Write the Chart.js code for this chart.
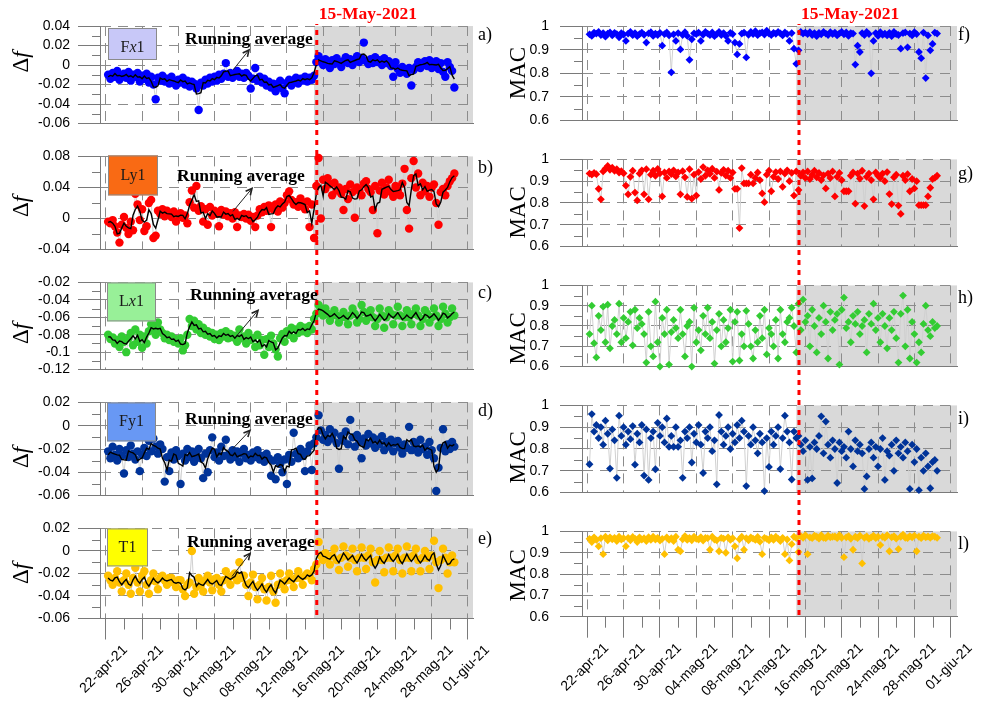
<!DOCTYPE html>
<html>
<head>
<meta charset="utf-8">
<script src="https://cdn.jsdelivr.net/npm/chart.js"></script>
<style>
  body { margin: 0; background: #fff; width: 985px; height: 703px; position: relative; overflow: hidden; }
  canvas { position: absolute; }
</style>
</head>
<body>
<script>
// x axis: days after 22-apr-21
const tickDays = [0, 4, 8, 12, 16, 20, 24, 28, 32, 36, 40];
const tickLabels = ['22-apr-21', '26-apr-21', '30-apr-21', '04-mag-21', '08-mag-21', '12-mag-21',
                    '16-mag-21', '20-mag-21', '24-mag-21', '28-mag-21', '01-giu-21'];
const minorDays = [2, 6, 10, 14, 18, 22, 26, 30, 34, 38];
const eventDay = 23.3;   // 15-May-2021
const shadeFrom = 23.0;
const firstDay = 0.25, stepDay = 0.25;   // one sample every 6 hours

// y tick values
const dfTicksA = [-0.06, -0.04, -0.02, 0, 0.02, 0.04];
const dfTicksB = [-0.04, 0, 0.04, 0.08];
const dfTicksC = [-0.12, -0.1, -0.08, -0.06, -0.04, -0.02];
const dfTicksD = [-0.06, -0.04, -0.02, 0, 0.02];
const dfTicksE = [-0.06, -0.04, -0.02, 0, 0.02];
const macTicks = [0.6, 0.7, 0.8, 0.9, 1];

// frequency shift, Δf
const fx1 = [
  -0.010,-0.014,-0.008,-0.012, -0.006,-0.015,-0.011,-0.009,
  -0.013,-0.007,-0.016,-0.010, -0.012,-0.008,-0.017,-0.011,
  -0.014,-0.009,-0.018,-0.012, -0.020,-0.035,-0.013,-0.016,
  -0.011,-0.017,-0.014,-0.019, -0.012,-0.016,-0.021,-0.015,
  -0.018,-0.013,-0.020,-0.016, -0.022,-0.017,-0.019,-0.024,
  -0.046,-0.018,-0.021,-0.015, -0.019,-0.013,-0.017,-0.012,
  -0.016,-0.010,-0.014,-0.009, 0.002,-0.012,-0.008,-0.013,
  -0.010,-0.006,-0.012,-0.009, -0.013,-0.008,-0.011,-0.024,
  -0.014,-0.003,-0.016,-0.012, -0.018,-0.014,-0.021,-0.017,
  -0.023,-0.019,-0.027,-0.020, -0.016,-0.024,-0.029,-0.018,
  -0.015,-0.021,-0.017,-0.013, -0.019,-0.014,-0.016,-0.012,
  -0.017,-0.013,-0.015,-0.011, 0.003,0.009,0.004,0.000,
  0.006,0.002,-0.003,0.005, 0.001,0.007,0.003,-0.002,
  0.004,0.008,0.002,0.006, 0.000,0.005,0.009,0.003,
  0.007,0.023,0.004,0.001, 0.006,0.002,0.008,0.003,
  0.005,0.000,0.007,0.002, 0.004,-0.001,-0.012,0.003,
  -0.004,-0.008,-0.002,-0.006, -0.009,-0.003,-0.021,-0.005,
  -0.002,0.003,-0.003,0.001, 0.004,-0.001,0.005,-0.003,
  0.000,0.004,-0.004,0.002, -0.007,-0.012,0.003,-0.002,
  -0.006,-0.023
];
const ly1 = [
  -0.004,-0.006,-0.002,-0.010, -0.018,-0.031,-0.008,0.002,
  -0.012,-0.020,-0.004,-0.015, 0.032,0.018,-0.002,0.012,
  -0.016,-0.010,0.020,0.024, -0.025,-0.022,0.010,0.006,
  0.012,0.003,0.010,0.006, 0.002,0.009,-0.004,0.005,
  0.007,0.001,0.004,-0.006, 0.021,0.036,0.014,0.042,
  0.010,0.016,-0.004,0.012, -0.008,0.015,0.004,0.010,
  0.006,-0.010,0.011,0.005, 0.009,0.003,0.007,0.000,
  0.008,-0.011,0.004,0.002, 0.006,0.000,0.005,-0.003,
  0.002,-0.011,0.004,0.012, 0.008,0.015,0.010,0.017,
  -0.011,0.012,0.018,0.009, 0.022,0.014,0.020,0.030,
  0.035,0.024,0.018,0.021, 0.015,0.026,0.020,0.012,
  0.022,-0.011,0.018,-0.025, 0.042,0.078,0.000,0.050,
  0.038,0.052,0.044,0.030, 0.046,0.036,0.040,0.032,
  0.011,0.038,0.025,0.044, 0.034,0.001,0.040,0.036,
  0.030,0.045,0.048,0.038, 0.034,0.011,0.042,-0.019,
  0.036,0.046,0.031,0.040, 0.050,0.034,0.028,0.042,
  0.036,0.030,0.045,0.064, 0.011,-0.013,0.052,0.074,
  0.040,0.058,0.030,0.046, 0.035,0.042,0.028,0.040,
  0.044,0.020,-0.008,0.034, 0.038,0.030,0.042,0.048,
  0.052,0.058
];
const lx1 = [
  -0.080,-0.085,-0.083,-0.090, -0.086,-0.094,-0.082,-0.088,
  -0.100,-0.084,-0.078,-0.092, -0.074,-0.088,-0.080,-0.095,
  -0.082,-0.090,-0.076,-0.068, -0.072,-0.080,-0.066,-0.074,
  -0.078,-0.084,-0.080,-0.086, -0.082,-0.088,-0.085,-0.090,
  -0.084,-0.098,-0.092,-0.080, -0.062,-0.070,-0.064,-0.074,
  -0.068,-0.078,-0.072,-0.080, -0.076,-0.082,-0.078,-0.085,
  -0.080,-0.086,-0.078,-0.082, -0.076,-0.084,-0.079,-0.083,
  -0.081,-0.088,-0.074,-0.084, -0.082,-0.090,-0.078,-0.086,
  -0.084,-0.094,-0.080,-0.092, -0.086,-0.103,-0.085,-0.094,
  -0.081,-0.090,-0.097,-0.105, -0.084,-0.079,-0.088,-0.076,
  -0.080,-0.072,-0.084,-0.074, -0.078,-0.070,-0.076,-0.072,
  -0.078,-0.070,-0.074,-0.062, -0.056,-0.046,-0.050,-0.058,
  -0.050,-0.056,-0.064,-0.058, -0.052,-0.058,-0.066,-0.060,
  -0.054,-0.060,-0.068,-0.058, -0.050,-0.056,-0.066,-0.062,
  -0.046,-0.054,-0.064,-0.058, -0.052,-0.060,-0.070,-0.062,
  -0.050,-0.058,-0.072,-0.060, -0.052,-0.056,-0.068,-0.058,
  -0.048,-0.058,-0.070,-0.060, -0.052,-0.060,-0.068,-0.056,
  -0.050,-0.058,-0.070,-0.062, -0.052,-0.056,-0.066,-0.060,
  -0.050,-0.058,-0.070,-0.062, -0.048,-0.056,-0.066,-0.060,
  -0.050,-0.058
];
const fy1 = [
  -0.022,-0.028,-0.018,-0.025, -0.030,-0.020,-0.026,-0.041,
  -0.021,-0.027,-0.017,-0.024, -0.029,-0.022,-0.039,-0.025,
  -0.019,-0.026,-0.013,-0.022, -0.011,-0.018,-0.024,-0.016,
  -0.020,-0.048,-0.027,-0.039, -0.023,-0.029,-0.021,-0.026,
  -0.050,-0.024,-0.030,-0.020, -0.027,-0.022,-0.031,-0.025,
  -0.020,-0.028,-0.045,-0.024, -0.040,-0.021,-0.010,-0.027,
  -0.023,-0.030,-0.018,-0.026, -0.012,-0.025,-0.029,-0.021,
  -0.027,-0.022,-0.031,-0.024, -0.020,-0.028,-0.025,-0.030,
  -0.023,-0.027,-0.021,-0.029, -0.026,-0.031,-0.024,-0.028,
  -0.043,-0.030,-0.046,-0.027, -0.033,-0.040,-0.029,-0.050,
  -0.025,-0.031,-0.006,-0.024, -0.028,-0.020,-0.026,-0.039,
  -0.022,-0.017,-0.038,-0.015, -0.010,0.009,-0.004,-0.012,
  -0.008,-0.014,-0.003,-0.011, -0.006,-0.015,-0.037,-0.009,
  -0.013,-0.005,-0.016,0.005, -0.010,-0.018,-0.008,-0.014,
  -0.028,-0.011,-0.017,-0.007, -0.015,-0.010,-0.019,-0.012,
  -0.016,-0.009,-0.021,-0.014, -0.018,-0.012,-0.022,-0.015,
  -0.013,-0.019,-0.024,-0.016, -0.019,-0.001,-0.021,-0.014,
  -0.017,-0.023,-0.012,-0.020, -0.018,-0.025,-0.014,-0.021,
  -0.028,-0.056,-0.036,-0.019, -0.003,-0.022,-0.016,-0.020,
  -0.014,-0.018
];
const t1 = [
  -0.022,-0.026,-0.030,-0.024, -0.018,-0.028,-0.036,-0.026,
  -0.020,-0.030,-0.038,-0.024, -0.015,-0.028,-0.036,-0.022,
  -0.018,-0.030,-0.038,-0.026, -0.020,-0.027,-0.034,-0.024,
  -0.022,-0.026,-0.030,-0.024, -0.024,-0.028,-0.032,-0.026,
  -0.026,-0.034,-0.040,-0.030, -0.028,0.000,-0.038,-0.032,
  -0.024,-0.030,-0.036,-0.026, -0.022,-0.028,-0.035,-0.025,
  -0.024,-0.030,-0.036,-0.026, -0.018,-0.024,-0.030,-0.022,
  -0.020,-0.026,-0.010,-0.024, -0.022,-0.030,-0.040,-0.028,
  -0.021,-0.032,-0.043,-0.030, -0.024,-0.034,-0.044,-0.032,
  -0.022,-0.036,-0.046,-0.030, -0.020,-0.028,-0.034,-0.026,
  -0.020,-0.026,-0.032,-0.024, -0.018,-0.024,-0.030,-0.022,
  -0.020,-0.022,-0.026,-0.016, -0.012,0.008,-0.004,-0.008,
  -0.002,-0.006,-0.012,-0.004, 0.002,-0.008,-0.017,-0.006,
  0.004,-0.004,-0.014,-0.006, 0.002,-0.008,-0.018,-0.006,
  0.003,-0.006,-0.016,-0.004, 0.002,-0.010,-0.028,-0.008,
  0.000,-0.008,-0.019,-0.006, 0.003,-0.006,-0.018,-0.004,
  0.002,-0.008,-0.020,-0.006, 0.004,-0.006,-0.018,-0.004,
  0.002,-0.008,-0.018,-0.006, 0.000,-0.006,-0.016,-0.004,
  0.009,-0.010,-0.033,-0.008, 0.002,-0.006,-0.020,-0.010,
  -0.004,-0.010
];

// modal assurance criterion, MAC
const macFx1 = [
  0.965,0.958,0.972,0.968, 0.975,0.962,0.970,0.955,
  0.968,0.973,0.960,0.971, 0.966,0.952,0.970,0.964,
  0.937,0.968,0.975,0.961, 0.970,0.957,0.966,0.972,
  0.963,0.930,0.969,0.974, 0.958,0.968,0.962,0.971,
  0.917,0.966,0.973,0.960, 0.804,0.965,0.937,0.970,
  0.901,0.962,0.974,0.958, 0.857,0.944,0.969,0.966,
  0.972,0.937,0.963,0.975, 0.968,0.961,0.973,0.957,
  0.966,0.975,0.962,0.970, 0.958,0.937,0.971,0.966,
  0.930,0.880,0.924,0.968, 0.972,0.867,0.963,0.975,
  0.966,0.978,0.961,0.970, 0.973,0.964,0.980,0.968,
  0.962,0.971,0.967,0.975, 0.969,0.960,0.973,0.966,
  0.937,0.970,0.904,0.840, 0.897,0.975,0.968,0.972,
  0.966,0.974,0.962,0.970, 0.957,0.971,0.965,0.975,
  0.968,0.962,0.974,0.966, 0.972,0.960,0.969,0.975,
  0.965,0.973,0.958,0.970, 0.968,0.837,0.917,0.890,
  0.970,0.962,0.975,0.966, 0.800,0.937,0.970,0.958,
  0.974,0.963,0.968,0.960, 0.971,0.957,0.975,0.966,
  0.962,0.904,0.970,0.973, 0.910,0.968,0.960,0.974,
  0.966,0.890,0.864,0.972, 0.780,0.960,0.897,0.924,
  0.972,0.968
];
const macLy1 = [
  0.935,0.930,0.938,0.932, 0.865,0.817,0.945,0.958,
  0.970,0.952,0.962,0.948, 0.955,0.940,0.946,0.936,
  0.880,0.840,0.920,0.948, 0.848,0.812,0.935,0.950,
  0.840,0.955,0.817,0.930, 0.948,0.925,0.956,0.936,
  0.830,0.940,0.915,0.945, 0.933,0.950,0.922,0.940,
  0.840,0.946,0.918,0.828, 0.955,0.820,0.930,0.834,
  0.942,0.910,0.965,0.925, 0.950,0.934,0.957,0.915,
  0.944,0.860,0.938,0.952, 0.926,0.948,0.915,0.940,
  0.865,0.865,0.685,0.960, 0.890,0.890,0.890,0.930,
  0.890,0.915,0.940,0.905, 0.844,0.804,0.930,0.948,
  0.854,0.920,0.942,0.910, 0.945,0.874,0.935,0.950,
  0.900,0.938,0.834,0.945, 0.860,0.925,0.940,0.915,
  0.945,0.910,0.930,0.948, 0.918,0.938,0.905,0.927,
  0.867,0.935,0.915,0.945, 0.830,0.920,0.938,0.905,
  0.854,0.854,0.854,0.925, 0.940,0.797,0.935,0.912,
  0.948,0.786,0.920,0.935, 0.905,0.817,0.940,0.925,
  0.915,0.935,0.900,0.942, 0.841,0.795,0.918,0.930,
  0.788,0.750,0.925,0.905, 0.932,0.854,0.910,0.867,
  0.900,0.790,0.790,0.790, 0.790,0.830,0.870,0.910,
  0.915,0.925
];
const macLx1 = [
  0.760,0.900,0.715,0.645, 0.850,0.780,0.895,0.720,
  0.905,0.690,0.800,0.830, 0.760,0.910,0.720,0.840,
  0.740,0.820,0.870,0.705, 0.880,0.790,0.840,0.810,
  0.760,0.620,0.870,0.700, 0.650,0.920,0.720,0.600,
  0.840,0.760,0.880,0.610, 0.770,0.830,0.790,0.740,
  0.880,0.760,0.650,0.800, 0.820,0.600,0.890,0.720,
  0.780,0.680,0.850,0.760, 0.890,0.740,0.820,0.615,
  0.780,0.860,0.700,0.830, 0.720,0.790,0.880,0.625,
  0.820,0.870,0.630,0.760, 0.700,0.875,0.810,0.700,
  0.640,0.780,0.720,0.850, 0.740,0.880,0.660,0.790,
  0.760,0.700,0.830,0.640, 0.880,0.760,0.720,0.820,
  0.840,0.890,0.800,0.670, 0.910,0.780,0.930,0.820,
  0.850,0.700,0.880,0.800, 0.670,0.840,0.760,0.900,
  0.820,0.640,0.870,0.780, 0.830,0.860,0.610,0.880,
  0.940,0.790,0.820,0.720, 0.850,0.810,0.870,0.760,
  0.800,0.830,0.670,0.860, 0.810,0.910,0.780,0.840,
  0.720,0.860,0.800,0.690, 0.840,0.780,0.870,0.740,
  0.620,0.860,0.950,0.700, 0.880,0.640,0.820,0.760,
  0.620,0.720,0.670,0.810, 0.900,0.780,0.750,0.820,
  0.790,0.800
];
const macFy1 = [
  0.730,0.960,0.880,0.910, 0.850,0.900,0.820,0.930,
  0.870,0.710,0.890,0.840, 0.668,0.953,0.860,0.900,
  0.820,0.880,0.845,0.905, 0.728,0.870,0.830,0.910,
  0.678,0.890,0.658,0.850, 0.880,0.707,0.920,0.860,
  0.900,0.830,0.940,0.810, 0.860,0.810,0.900,0.810,
  0.840,0.668,0.880,0.850, 0.900,0.738,0.870,0.830,
  0.910,0.820,0.690,0.880, 0.850,0.900,0.790,0.840,
  0.638,0.956,0.880,0.820, 0.860,0.900,0.800,0.870,
  0.830,0.910,0.850,0.930, 0.880,0.630,0.860,0.820,
  0.900,0.840,0.780,0.870, 0.830,0.607,0.850,0.718,
  0.880,0.820,0.860,0.900, 0.708,0.850,0.953,0.880,
  0.830,0.660,0.880,0.850, 0.860,0.820,0.790,0.840,
  0.658,0.810,0.665,0.830, 0.800,0.860,0.950,0.780,
  0.926,0.820,0.760,0.840, 0.800,0.644,0.830,0.790,
  0.810,0.760,0.880,0.800, 0.720,0.840,0.790,0.820,
  0.780,0.617,0.674,0.800, 0.830,0.760,0.810,0.720,
  0.800,0.850,0.658,0.790, 0.770,0.820,0.700,0.840,
  0.780,0.810,0.760,0.830, 0.790,0.617,0.820,0.740,
  0.800,0.611,0.760,0.700, 0.780,0.720,0.620,0.740,
  0.750,0.700
];
const macT1 = [
  0.965,0.950,0.972,0.960, 0.930,0.968,0.893,0.975,
  0.958,0.972,0.963,0.970, 0.955,0.975,0.962,0.968,
  0.930,0.970,0.958,0.974, 0.966,0.950,0.972,0.961,
  0.968,0.955,0.973,0.960, 0.975,0.962,0.970,0.957,
  0.965,0.893,0.972,0.960, 0.968,0.955,0.975,0.914,
  0.907,0.963,0.978,0.960, 0.970,0.958,0.975,0.965,
  0.962,0.973,0.957,0.970, 0.968,0.914,0.975,0.962,
  0.958,0.907,0.970,0.966, 0.900,0.972,0.960,0.968,
  0.930,0.874,0.963,0.975, 0.914,0.968,0.958,0.972,
  0.966,0.960,0.974,0.952, 0.893,0.970,0.965,0.958,
  0.972,0.960,0.975,0.966, 0.955,0.970,0.893,0.962,
  0.864,0.940,0.975,0.968, 0.903,0.978,0.970,0.982,
  0.893,0.972,0.968,0.980, 0.975,0.966,0.982,0.970,
  0.968,0.980,0.972,0.975, 0.976,0.968,0.982,0.970,
  0.879,0.972,0.978,0.965, 0.914,0.975,0.968,0.980,
  0.850,0.970,0.976,0.965, 0.972,0.980,0.968,0.975,
  0.936,0.975,0.970,0.982, 0.907,0.972,0.978,0.966,
  0.917,0.975,0.985,0.970, 0.968,0.978,0.972,0.980,
  0.907,0.975,0.968,0.980, 0.972,0.976,0.970,0.978,
  0.975,0.970
];

const sampleDays = fx1.map((_, i) => firstDay + i * stepDay);

const SERIF = "'Liberation Serif', 'Times New Roman', serif";
const SANS = "'Liberation Sans', Arial, sans-serif";
Chart.defaults.font.family = SANS;

// canvas strips, one per row (absolute page y)
const rows = [[0, 140], [140, 266], [266, 386], [386, 512], [512, 703]];

const leftCol = {
  x: 0, w: 500, yw: 100, areaRight: 473, xmin: -0.65, xmax: 40.56, tickPad: 8,
  title: [{t: 'Δ'}, {t: 'f', it: true}], titleDX: -72, letterDX: 5,
  pointStyle: 'circle', radius: 4.2
};
const rightCol = {
  x: 490, w: 495, yw: 92, areaRight: 957, xmin: -0.58, xmax: 40.69, tickPad: 11,
  title: [{t: 'MAC'}], titleDX: -57, letterDX: 1,
  pointStyle: 'rectRot', radius: 3.9
};

const leftPanels = [
  {vals: fx1, ticks: dfTicksA, color: '#0000ff', top: 26, bottom: 126.7, letter: 'a)', letterDY: 14, titleDY: 36,
   box: {parts: [{t: 'F'}, {t: 'x', it: true}, {t: '1'}], fill: '#c8c8f8', dx: 8, dy: 2, w: 49, h: 32, ty: 4},
   ra: {tx: 85, ty: 18, x0: 133, y0: 44, x1: 149, y1: 24}},
  {vals: ly1, ticks: dfTicksB, color: '#ff0000', top: 153.3, bottom: 252.3, letter: 'b)', letterDY: 17, titleDY: 50,
   box: {parts: [{t: 'Ly1'}], fill: '#f96a14', dx: 8, dy: -1, w: 50, h: 40, ty: 0},
   ra: {tx: 77, ty: 25, x0: 133, y0: 55, x1: 152, y1: 32}},
  {vals: lx1, ticks: dfTicksC, color: '#33cc33', top: 279, bottom: 378.3, letter: 'c)', letterDY: 16, titleDY: 51,
   box: {parts: [{t: 'L'}, {t: 'x', it: true}, {t: '1'}], fill: '#98f098', dx: 7, dy: 0, w: 49, h: 39, ty: 0},
   ra: {tx: 90, ty: 18, x0: 137, y0: 53, x1: 158, y1: 28}},
  {vals: fy1, ticks: dfTicksD, color: '#003399', top: 396.7, bottom: 496, letter: 'd)', letterDY: 14, titleDY: 55,
   box: {parts: [{t: 'Fy1'}], fill: '#6898f4', dx: 7, dy: 0, w: 49, h: 39, ty: 0},
   ra: {tx: 85, ty: 22, x0: 133, y0: 46, x1: 150, y1: 28}},
  {vals: t1, ticks: dfTicksE, color: '#ffc000', top: 525, bottom: 618.5, letter: 'e)', letterDY: 16, titleDY: 45,
   box: {parts: [{t: 'T1'}], fill: '#ffff00', dx: 7, dy: 0, w: 41, h: 38, ty: 0},
   ra: {tx: 87, ty: 19, x0: 132, y0: 48, x1: 150, y1: 25}}
];
const rightPanels = [
  {vals: macFx1, ticks: macTicks, color: '#0000ff', top: 26, bottom: 126, letter: 'f)', letterDY: 14, titleDY: 47},
  {vals: macLy1, ticks: macTicks, color: '#ff0000', top: 150, bottom: 250.7, letter: 'g)', letterDY: 20, titleDY: 53},
  {vals: macLx1, ticks: macTicks, color: '#33cc33', top: 277.7, bottom: 376, letter: 'h)', letterDY: 18, titleDY: 53},
  {vals: macFy1, ticks: macTicks, color: '#003399', top: 395, bottom: 494.3, letter: 'i)', letterDY: 19, titleDY: 52},
  {vals: macT1, ticks: macTicks, color: '#ffc000', top: 523.3, bottom: 616.7, letter: 'l)', letterDY: 18, titleDY: 44}
];

function runningAverage(vals, half) {
  return vals.map((_, i) => {
    let s = 0, n = 0;
    for (let j = i - half; j <= i + half; j++) {
      if (j >= 0 && j < vals.length) { s += vals[j]; n++; }
    }
    return s / n;
  });
}

function fmtTick(v) {
  return String(parseFloat(Number(v).toFixed(2)));
}

// text made of upright / italic pieces
function drawParts(ctx, parts, size, x, y, align) {
  const fonts = parts.map(p => (p.it ? 'italic ' : '') + size + 'px ' + SERIF);
  let total = 0;
  const ws = parts.map((p, i) => { ctx.font = fonts[i]; const w = ctx.measureText(p.t).width; total += w; return w; });
  let cx = align === 'center' ? x - total / 2 : x;
  ctx.textAlign = 'left';
  parts.forEach((p, i) => { ctx.font = fonts[i]; ctx.fillText(p.t, cx, y); cx += ws[i]; });
}

function decorPlugin(p, col, ct, isFirst, isLast) {
  return {
    id: 'decor',
    beforeDraw(chart) {
      const {ctx, chartArea: a, scales: {x}} = chart;
      const gx = x.getPixelForValue(shadeFrom);
      ctx.save();
      ctx.fillStyle = '#d9d9d9';
      ctx.fillRect(gx, a.top, a.right - gx, a.bottom - a.top);
      ctx.restore();
    },
    afterDraw(chart) {
      const {ctx, chartArea: a, scales: {x, y}} = chart;
      ctx.save();
      ctx.strokeStyle = '#7a7a7a';
      ctx.lineWidth = 1;
      // minor y ticks
      for (let i = 0; i < p.ticks.length - 1; i++) {
        const py = Math.round(y.getPixelForValue((p.ticks[i] + p.ticks[i + 1]) / 2)) + 0.5;
        ctx.beginPath(); ctx.moveTo(a.left - 8, py); ctx.lineTo(a.left, py); ctx.stroke();
      }
      if (isLast) {
        minorDays.forEach(d => {
          const px = Math.round(x.getPixelForValue(d)) + 0.5;
          ctx.beginPath(); ctx.moveTo(px, a.bottom); ctx.lineTo(px, a.bottom + 11); ctx.stroke();
        });
        ctx.fillStyle = '#000';
        ctx.font = '14px ' + SANS;
        ctx.textAlign = 'right';
        ctx.textBaseline = 'alphabetic';
        tickDays.forEach((d, i) => {
          ctx.save();
          ctx.translate(x.getPixelForValue(d) + 22, a.bottom + 32);
          ctx.rotate(-Math.PI / 4);
          ctx.fillText(tickLabels[i], 0, 0);
          ctx.restore();
        });
      }

      // 15-May-2021 line
      const rx = x.getPixelForValue(eventDay);
      const y0 = isFirst ? a.top - 2 : 0;
      const y1 = isLast ? a.bottom : chart.height;
      ctx.save();
      ctx.strokeStyle = '#ff0000';
      ctx.lineWidth = 3;
      ctx.setLineDash([5, 5]);
      ctx.lineDashOffset = ct + y0;
      ctx.beginPath(); ctx.moveTo(rx, y0); ctx.lineTo(rx, y1); ctx.stroke();
      ctx.restore();
      if (isFirst) {
        ctx.fillStyle = '#ff0000';
        ctx.font = 'bold 17.5px ' + SERIF;
        ctx.textAlign = 'left';
        ctx.fillText('15-May-2021', rx + 2, 19 - ct);
      }

      // label box
      if (p.box) {
        const b = p.box;
        const bx = a.left + b.dx, by = a.top + b.dy;
        ctx.fillStyle = b.fill;
        ctx.fillRect(bx, by, b.w, b.h);
        ctx.strokeStyle = '#8a8a8a';
        ctx.strokeRect(bx + 0.5, by + 0.5, b.w - 1, b.h - 1);
        ctx.fillStyle = '#1a1a1a';
        ctx.textBaseline = 'middle';
        drawParts(ctx, b.parts, 16, bx + b.w / 2, by + b.h / 2 + b.ty, 'center');
        ctx.textBaseline = 'alphabetic';
      }

      // panel letter
      ctx.fillStyle = '#000';
      ctx.font = '18px ' + SERIF;
      ctx.textAlign = 'left';
      ctx.fillText(p.letter, a.right + col.letterDX, a.top + p.letterDY);

      // axis title
      ctx.save();
      ctx.translate(a.left + col.titleDX, a.top + p.titleDY);
      ctx.rotate(-Math.PI / 2);
      drawParts(ctx, col.title, 23, 0, 0, 'center');
      ctx.restore();

      // running average note
      if (p.ra) {
        const r = p.ra;
        ctx.font = 'bold 17.5px ' + SERIF;
        ctx.fillText('Running average', a.left + r.tx, a.top + r.ty);
        const x0 = a.left + r.x0, yy0 = a.top + r.y0, x1 = a.left + r.x1, yy1 = a.top + r.y1;
        const ang = Math.atan2(yy1 - yy0, x1 - x0);
        ctx.strokeStyle = '#222';
        ctx.lineWidth = 1;
        ctx.beginPath(); ctx.moveTo(x0, yy0); ctx.lineTo(x1, yy1); ctx.stroke();
        ctx.lineWidth = 1.6;
        ctx.beginPath();
        ctx.moveTo(x1 - 7 * Math.cos(ang - 0.45), yy1 - 7 * Math.sin(ang - 0.45));
        ctx.lineTo(x1, yy1);
        ctx.lineTo(x1 - 7 * Math.cos(ang + 0.45), yy1 - 7 * Math.sin(ang + 0.45));
        ctx.stroke();
      }
      ctx.restore();
    }
  };
}

function makePanel(p, col, rowIdx) {
  const [ct, cb] = rows[rowIdx];
  const H = cb - ct;
  const isLeft = col === leftCol;
  const isFirst = rowIdx === 0;
  const isLast = rowIdx === rows.length - 1;

  const cv = document.createElement('canvas');
  cv.width = col.w;
  cv.height = H;
  cv.style.left = col.x + 'px';
  cv.style.top = ct + 'px';
  cv.style.width = col.w + 'px';
  cv.style.height = H + 'px';
  document.body.appendChild(cv);

  const datasets = [];
  if (isLeft) {
    const avg = runningAverage(p.vals, 1);
    datasets.push({
      label: 'Running average',
      data: avg.map((v, i) => ({x: sampleDays[i], y: v})),
      showLine: true, borderColor: '#000', borderWidth: 1.4,
      pointRadius: 0, order: 0
    });
  }
  datasets.push({
    label: 'samples',
    data: p.vals.map((v, i) => ({x: sampleDays[i], y: v})),
    showLine: true, borderColor: '#d0d0d0', borderWidth: 1,
    pointStyle: col.pointStyle, pointRadius: col.radius,
    pointBackgroundColor: p.color, pointBorderWidth: 0,
    order: 1, clip: false
  });

  new Chart(cv, {
    type: 'scatter',
    data: {datasets},
    options: {
      responsive: false,
      animation: false,
      devicePixelRatio: 1,
      events: [],
      layout: {
        autoPadding: false,
        padding: {top: p.top - ct, right: col.x + col.w - col.areaRight, bottom: 0, left: 0}
      },
      plugins: {legend: {display: false}, tooltip: {enabled: false}},
      scales: {
        x: {
          type: 'linear', min: col.xmin, max: col.xmax,
          afterBuildTicks: s => { s.ticks = tickDays.map(v => ({value: v})); },
          afterFit: s => { s.height = cb - p.bottom; },
          ticks: {display: false},
          grid: {color: '#8c8c8c', drawTicks: isLast, tickLength: 21, tickColor: '#7a7a7a', tickBorderDash: []},
          border: {display: true, color: '#7a7a7a', dash: [10, 7]}
        },
        y: {
          type: 'linear', min: p.ticks[0], max: p.ticks[p.ticks.length - 1],
          afterBuildTicks: s => { s.ticks = p.ticks.map(v => ({value: v})); },
          afterFit: s => { s.width = col.yw; },
          ticks: {callback: fmtTick, color: '#000', font: {size: 14}, padding: col.tickPad},
          grid: {color: '#8c8c8c', tickLength: 22, tickColor: '#7a7a7a', tickBorderDash: []},
          border: {display: true, color: '#7a7a7a', dash: [10, 7]}
        }
      }
    },
    plugins: [decorPlugin(p, col, ct, isFirst, isLast)]
  });
}

leftPanels.forEach((p, i) => makePanel(p, leftCol, i));
rightPanels.forEach((p, i) => makePanel(p, rightCol, i));
</script>
</body>
</html>
